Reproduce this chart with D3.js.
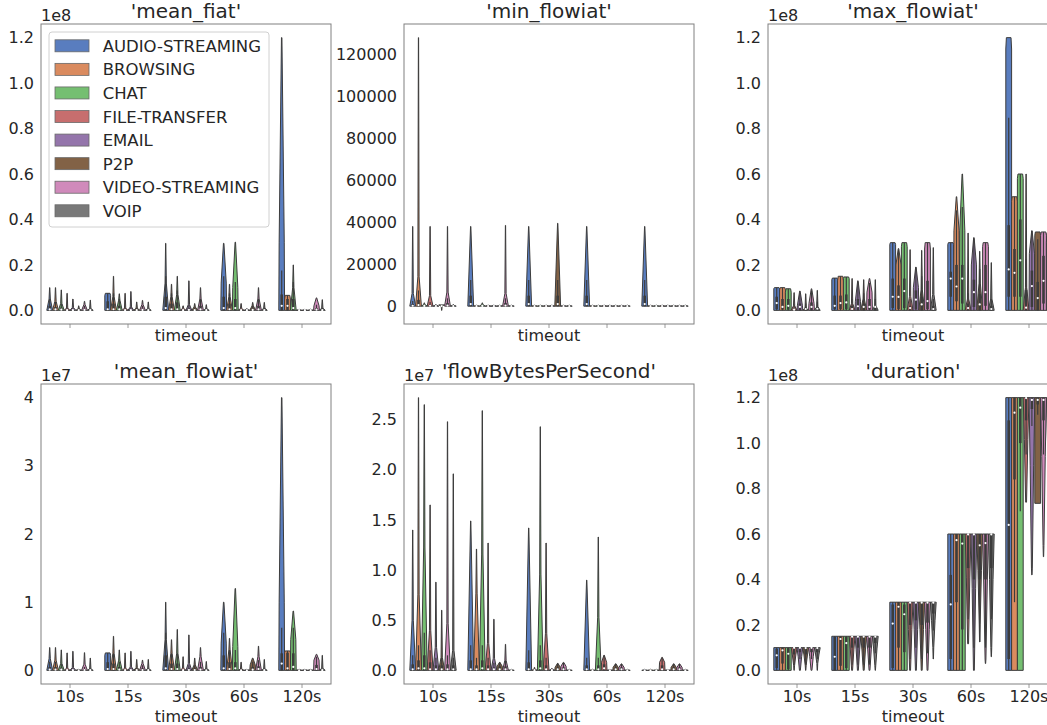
<!DOCTYPE html>
<html lang="en">
<head>
<meta charset="UTF-8">
<title>timeout violins</title>
<script src="https://d3js.org/d3.v7.min.js"></script>
<style>
  body { margin: 0; background: #fff; }
  svg { display: block; }
  text { font-family: "DejaVu Sans", sans-serif; fill: #262626; }
</style>
</head>
<body>
<script>
const timeouts = ["10s", "15s", "30s", "60s", "120s"];
const categories = ["AUDIO-STREAMING", "BROWSING", "CHAT", "FILE-TRANSFER", "EMAIL", "P2P", "VIDEO-STREAMING", "VOIP"];
const palette = ["#4878d0", "#ee854a", "#6acc64", "#d65f5f", "#956cb4", "#8c613c", "#dc7ec0", "#797979"];

// one violin = [shape, min, max, neck, q1, median, q3]
// shape: s = heavy at the bottom, w = wide shoulder then taper, r = full width, i = heavy at the top
const meanFiat = [ // x1e8
  [["s",0,0.10,0.05,0,0.004,0.02],["s",0,0.10,0.04,0,0.004,0.015],["s",0,0.09,0.03,0,0.003,0.012],["s",0,0.075,0.01,0,0.001,0.004],["s",0,0.05,0.012,0,0.001,0.005],["s",0,0.02,0.006,0,0.001,0.003],["s",0,0.04,0.025,0,0.002,0.008],["s",0,0.045,0.008,0,0.001,0.003]],
  [["r",0,0.075,0.065,0,0.005,0.04],["s",0,0.15,0.06,0,0.005,0.03],["s",0,0.073,0.045,0,0.004,0.02],["s",0,0.075,0.01,0,0.001,0.004],["s",0,0.083,0.015,0,0.001,0.006],["s",0,0.037,0.01,0,0.001,0.004],["s",0,0.044,0.025,0,0.002,0.008],["s",0,0.037,0.008,0,0.001,0.003]],
  [["s",0,0.295,0.12,0,0.01,0.06],["s",0,0.115,0.06,0,0.005,0.03],["s",0,0.15,0.07,0,0.005,0.035],["s",0,0.02,0.008,0,0.001,0.003],["s",0,0.13,0.025,0,0.002,0.01],["s",0,0.03,0.015,0,0.001,0.005],["s",0,0.10,0.05,0,0.004,0.02],["s",0,0.025,0.006,0,0.001,0.003]],
  [["w",0,0.295,0.12,0,0.01,0.06],["s",0,0.115,0.06,0,0.005,0.03],["w",0,0.30,0.1,0,0.01,0.05],["s",0,0.03,0.008,0,0.001,0.003],["s",0,0.008,0.004,0,0.001,0.002],["s",0,0.035,0.02,0,0.002,0.008],["s",0,0.10,0.05,0,0.004,0.02],["s",0,0.035,0.01,0,0.001,0.004]],
  [["w",0,1.20,0.3,0,0.02,0.07],["r",0,0.066,0.05,0,0.02,0.05],["s",0,0.20,0.1,0,0.01,0.05],["s",0,0.005,0.003,0,0.001,0.002],["s",0,0.005,0.003,0,0.001,0.002],["s",0,0.005,0.003,0,0.001,0.002],["w",0,0.055,0.02,0,0.003,0.01],["s",0,0.047,0.01,0,0.001,0.004]]
];

const minFlowiat = [
  [["s",0,38000,6000,0,200,1000],["s",0,128000,14000,0,500,3000],["s",0,1600,800,0,100,300],["s",0,38000,5000,0,200,800],["s",0,800,400,0,50,200],["i",-2000,600,0,0,50,200],["s",0,38000,6700,0,300,1500],["s",0,800,400,0,50,200]],
  [["s",0,38000,38000,0,1000,5000],["s",0,600,300,0,50,150],["s",0,1600,800,0,100,300],["s",0,600,300,0,50,150],["s",0,600,300,0,50,150],["s",0,600,300,0,50,150],["s",0,38500,6000,0,300,1500],["s",0,600,300,0,50,150]],
  [["s",0,38000,38000,0,1000,5000],["s",0,600,300,0,50,150],["s",0,600,300,0,50,150],["s",0,600,300,0,50,150],["s",0,600,300,0,50,150],["s",0,39500,39500,0,1000,5000],["s",0,600,300,0,50,150],["s",0,600,300,0,50,150]],
  [["s",0,38000,38000,0,1000,5000],["s",0,600,300,0,50,150],["s",0,600,300,0,50,150],["s",0,600,300,0,50,150],["s",0,600,300,0,50,150],["s",0,600,300,0,50,150],["s",0,600,300,0,50,150],["s",0,600,300,0,50,150]],
  [["s",0,38000,38000,0,1000,5000],["s",0,600,300,0,50,150],["s",0,600,300,0,50,150],["s",0,600,300,0,50,150],["s",0,600,300,0,50,150],["s",0,600,300,0,50,150],["s",0,600,300,0,50,150],["s",0,600,300,0,50,150]]
];

const maxFlowiat = [ // x1e8
  [["r",0,0.10,0.095,0.005,0.032,0.06],["r",0,0.10,0.09,0.003,0.015,0.05],["r",0,0.095,0.08,0.003,0.02,0.05],["s",0,0.078,0.02,0,0.003,0.01],["w",0,0.085,0.02,0,0.015,0.03],["s",0,0.073,0.01,0,0.006,0.012],["w",0,0.095,0.03,0,0.015,0.035],["s",0,0.088,0.015,0,0.007,0.015]],
  [["r",0,0.142,0.135,0.005,0.02,0.065],["r",0,0.15,0.13,0.005,0.032,0.065],["r",0,0.147,0.14,0.005,0.035,0.07],["s",0,0.14,0.03,0,0.006,0.02],["w",0,0.13,0.04,0,0.018,0.05],["s",0,0.135,0.05,0,0.015,0.03],["w",0,0.14,0.08,0.003,0.015,0.05],["s",0,0.135,0.02,0,0.015,0.02]],
  [["r",0,0.298,0.29,0.01,0.06,0.14],["w",0,0.272,0.2,0.005,0.059,0.11],["r",0,0.298,0.28,0.01,0.085,0.14],["s",0,0.267,0.06,0,0.01,0.02],["w",0,0.19,0.1,0.005,0.047,0.088],["s",0,0.264,0.09,0,0.026,0.06],["r",0,0.298,0.27,0.005,0.041,0.13],["s",0,0.276,0.07,0,0.006,0.02]],
  [["r",0,0.298,0.29,0.06,0.14,0.17],["w",0,0.50,0.35,0.04,0.105,0.2],["w",0,0.60,0.35,0.03,0.14,0.2],["s",0,0.34,0.05,0,0.01,0.03],["w",0,0.32,0.2,0.015,0.08,0.135],["s",0,0.26,0.12,0,0.026,0.073],["r",0,0.298,0.28,0.02,0.08,0.2],["s",0,0.21,0.05,0,0.006,0.02]],
  [["r",0,1.20,1.15,0.06,0.18,0.375],["r",0,0.50,0.48,0.06,0.165,0.27],["r",0,0.60,0.58,0.06,0.22,0.40],["s",0,0.60,0.1,0,0.012,0.09],["w",0,0.35,0.25,0.015,0.107,0.175],["r",0,0.345,0.33,0,0.054,0.125],["r",0,0.345,0.33,0.03,0.13,0.24],["r",0,0.34,0.3,0.01,0.1,0.2]]
];

const meanFlowiat = [ // x1e7
  [["s",0,0.335,0.17,0,0.01,0.05],["s",0,0.335,0.15,0,0.01,0.05],["s",0,0.30,0.1,0,0.01,0.04],["s",0,0.256,0.03,0,0.003,0.01],["s",0,0.28,0.04,0,0.003,0.015],["s",0,0.02,0.01,0,0.002,0.005],["s",0,0.26,0.09,0,0.005,0.02],["s",0,0.18,0.02,0,0.003,0.01]],
  [["r",0,0.256,0.22,0,0.02,0.12],["s",0,0.50,0.25,0,0.02,0.1],["s",0,0.30,0.15,0,0.01,0.05],["s",0,0.256,0.03,0,0.003,0.01],["s",0,0.28,0.05,0,0.003,0.015],["s",0,0.16,0.04,0,0.003,0.015],["s",0,0.15,0.1,0,0.005,0.03],["s",0,0.16,0.02,0,0.003,0.01]],
  [["s",0,1.0,0.45,0,0.03,0.22],["s",0,0.45,0.25,0,0.02,0.1],["s",0,0.60,0.25,0,0.02,0.1],["s",0,0.20,0.03,0,0.003,0.01],["s",0,0.52,0.1,0,0.005,0.03],["s",0,0.18,0.08,0,0.005,0.03],["s",0,0.335,0.2,0,0.01,0.05],["s",0,0.13,0.02,0,0.002,0.01]],
  [["w",0,1.0,0.4,0,0.03,0.22],["s",0,0.47,0.3,0,0.02,0.12],["w",0,1.2,0.35,0,0.03,0.12],["s",0,0.12,0.02,0,0.002,0.008],["s",0,0.02,0.01,0,0.002,0.005],["w",0,0.18,0.08,0,0.01,0.05],["s",0,0.355,0.2,0,0.02,0.06],["s",0,0.16,0.02,0,0.003,0.01]],
  [["w",0,4.0,1.0,0,0.1,0.25],["r",0,0.285,0.26,0,0.03,0.26],["w",0,0.87,0.45,0,0.05,0.25],["s",0,0.02,0.01,0,0.002,0.005],["s",0,0.02,0.01,0,0.002,0.005],["s",0,0.02,0.01,0,0.002,0.005],["w",0,0.236,0.15,0,0.02,0.08],["s",0,0.22,0.03,0,0.003,0.01]]
];

const flowBytes = [ // x1e7
  [["s",0,1.40,0.5,0,0.01,0.06],["s",0,2.72,0.76,0,0.02,0.1],["s",0,2.65,1.23,0,0.02,0.15],["s",0,1.65,0.4,0,0.01,0.08],["s",0,0.88,0.23,0,0.01,0.05],["s",0,0.60,0.13,0,0.01,0.05],["s",0,2.48,0.47,0,0.01,0.06],["s",0,1.96,0.2,0,0.01,0.05]],
  [["s",0,1.49,1.49,0,0.01,0.1],["s",0,1.21,0.77,0,0.01,0.05],["s",0,2.59,1.16,0,0.02,0.1],["s",0,1.27,0.27,0,0.01,0.05],["s",0,0.51,0.12,0,0.01,0.03],["w",0,0.08,0.04,0,0.01,0.04],["s",0,0.26,0.1,0,0.01,0.04],["s",0,0.01,0.005,0,0.001,0.003]],
  [["s",0,1.42,1.42,0,0.01,0.08],["s",0,0.03,0.01,0,0.002,0.005],["s",0,2.43,0.96,0,0.02,0.1],["s",0,1.27,0.37,0,0.01,0.05],["s",0,0.02,0.01,0,0.002,0.005],["w",0,0.07,0.03,0,0.01,0.03],["w",0,0.08,0.04,0,0.01,0.03],["s",0,0.01,0.005,0,0.001,0.003]],
  [["s",0,0.90,0.9,0,0.01,0.05],["s",0,0.01,0.005,0,0.001,0.003],["s",0,1.33,0.53,0,0.01,0.05],["w",0,0.15,0.08,0,0.02,0.06],["s",0,0.01,0.005,0,0.001,0.003],["w",0,0.065,0.03,0,0.01,0.03],["w",0,0.065,0.03,0,0.01,0.03],["s",0,0.01,0.005,0,0.001,0.003]],
  [["s",0,0.01,0.005,0,0.001,0.003],["s",0,0.01,0.005,0,0.001,0.003],["s",0,0.01,0.005,0,0.001,0.003],["w",0,0.13,0.08,0,0.01,0.05],["s",0,0.01,0.005,0,0.001,0.003],["w",0,0.065,0.03,0,0.01,0.03],["w",0,0.065,0.03,0,0.01,0.03],["s",0,0.01,0.005,0,0.001,0.003]]
];

const duration = [ // x1e8
  [["r",0,0.1,0.1,0.01,0.066,0.095],["r",0,0.1,0.1,0.03,0.088,0.1],["r",0,0.1,0.1,0.005,0.073,0.098],["i",0,0.1,0.02,0.07,0.099,0.1],["i",0,0.1,0,0.08,0.099,0.1],["i",0,0.1,0.02,0.07,0.098,0.1],["i",0,0.1,0,0.08,0.099,0.1],["i",0,0.1,0.03,0.08,0.098,0.1]],
  [["r",0,0.15,0.15,0,0.06,0.148],["r",0,0.15,0.15,0.02,0.138,0.15],["r",0,0.15,0.15,0.01,0.12,0.148],["i",0,0.15,0,0.1,0.148,0.15],["i",0,0.15,0,0.1,0.148,0.15],["i",0,0.15,0,0.1,0.148,0.15],["i",0,0.15,0,0.1,0.148,0.15],["i",0,0.15,0.02,0.12,0.148,0.15]],
  [["r",0,0.3,0.3,0.01,0.206,0.29],["r",0,0.3,0.3,0.1,0.28,0.3],["r",0,0.3,0.3,0.08,0.247,0.29],["i",0,0.3,0,0.2,0.298,0.3],["i",0,0.3,0,0.22,0.298,0.3],["i",0,0.3,0,0.2,0.298,0.3],["i",0,0.3,0,0.21,0.298,0.3],["i",0.05,0.3,0.1,0.25,0.298,0.3]],
  [["r",0,0.6,0.6,0.05,0.29,0.42],["r",0,0.6,0.6,0.3,0.573,0.6],["r",0,0.6,0.6,0.18,0.558,0.6],["i",0.117,0.6,0.117,0.45,0.598,0.6],["i",0,0.6,0,0.4,0.598,0.6],["i",0.125,0.6,0.2,0.4,0.55,0.6],["i",0.03,0.6,0.05,0.4,0.56,0.6],["i",0.06,0.6,0.1,0.45,0.598,0.6]],
  [["r",0,1.2,1.2,0.05,0.64,1.1],["r",0,1.2,1.2,0.84,1.134,1.2],["r",0,1.2,1.2,1.0,1.156,1.2],["i",0.74,1.2,0.74,1.1,1.198,1.2],["i",0.42,1.2,0.45,1.15,1.19,1.2],["r",0.735,1.2,1.2,1.17,1.19,1.2],["i",0.5,1.2,0.55,1.1,1.19,1.2],["i",0.6,1.2,0.7,1.1,1.19,1.2]]
];

const unitTicks = [0, 0.2, 0.4, 0.6, 0.8, 1.0, 1.2];
const panels = [
  { title: "'mean_fiat'", offset: "1e8", ticks: unitTicks, fmt: ".1f", data: meanFiat },
  { title: "'min_flowiat'", offset: "", ticks: [0, 20000, 40000, 60000, 80000, 100000, 120000], fmt: "d", data: minFlowiat },
  { title: "'max_flowiat'", offset: "1e8", ticks: unitTicks, fmt: ".1f", data: maxFlowiat },
  { title: "'mean_flowiat'", offset: "1e7", ticks: [0, 1, 2, 3, 4], fmt: "d", data: meanFlowiat },
  { title: "'flowBytesPerSecond'", offset: "1e7", ticks: [0, 0.5, 1.0, 1.5, 2.0, 2.5], fmt: ".1f", data: flowBytes },
  { title: "'duration'", offset: "1e8", ticks: unitTicks, fmt: ".1f", data: duration }
];

const width = 1047, height = 725;
const W = 290, H = 300;
const lefts = [41, 404, 768], tops = [24, 384];
const lineGray = "#3c3c3c", spineGray = "#808080";

// seaborn draws violins with saturation .75
function desat(c) {
  const h = d3.hsl(c);
  h.s *= 0.75;
  return h.formatHex();
}
const fills = palette.map(desat);

function knots(v) {
  const [k, lo, hi, p] = v;
  if (k === "s") {
    if (p >= hi) return [[lo, 1], [hi, 0.05]];
    return [[lo, 1], [p, 0.22], [hi, 0.04]];
  }
  if (k === "w") return [[lo, 1], [p, 0.88], [hi, 0.08]];
  if (k === "r") return p >= hi ? [[lo, 1], [hi, 1]] : [[lo, 1], [p, 1], [hi, 0.8]];
  return [[lo, 0.05], [p, 0.15], [p + (hi - p) * 0.6, 0.6], [hi, 1]];
}

const svg = d3.select("body").append("svg")
  .attr("width", width)
  .attr("height", height);

panels.forEach((panel, i) => {
  const row = Math.floor(i / 3);
  const g = svg.append("g").attr("transform", `translate(${lefts[i % 3]},${tops[row]})`);

  const x = d3.scaleBand().domain(timeouts).range([0, W]);
  const hue = d3.scaleBand().domain(categories)
    .range([-0.4 * x.bandwidth(), 0.4 * x.bandwidth()]);
  const half = hue.bandwidth() / 2;

  const flat = panel.data.flat();
  const lo = d3.min(flat, d => d[1]), hi = d3.max(flat, d => d[2]);
  const pad = (hi - lo) * 0.05;
  const y = d3.scaleLinear().domain([lo - pad, hi + pad]).range([H, 0]);

  panel.data.forEach((group, ti) => {
    group.forEach((v, ci) => {
      const cx = x(timeouts[ti]) + x.bandwidth() / 2 + hue(categories[ci]) + half;
      const area = d3.area()
        .y(d => y(d[0]))
        .x0(d => cx - d[1] * half)
        .x1(d => cx + d[1] * half);
      g.append("path")
        .attr("d", area(knots(v)))
        .attr("fill", fills[ci])
        .attr("stroke", lineGray)
        .attr("stroke-width", 1)
        .attr("stroke-linejoin", "round");

      const [, vmin, vmax, , q1, med, q3] = v;
      const iqr = q3 - q1;
      const wLo = Math.max(vmin, q1 - 1.5 * iqr), wHi = Math.min(vmax, q3 + 1.5 * iqr);
      g.append("line")
        .attr("x1", cx).attr("x2", cx)
        .attr("y1", y(wLo)).attr("y2", y(wHi))
        .attr("stroke", lineGray)
        .attr("stroke-width", 1.2);
      g.append("rect")
        .attr("x", cx - 1.3)
        .attr("width", 2.6)
        .attr("y", y(q3))
        .attr("height", Math.max(0, y(q1) - y(q3)))
        .attr("fill", lineGray);
      g.append("circle")
        .attr("cx", cx).attr("cy", y(med))
        .attr("r", 1.1)
        .attr("fill", "white");
    });
  });

  // axes: no y tick marks, short light x ticks
  const yAxis = g.append("g")
    .call(d3.axisLeft(y).tickValues(panel.ticks).tickFormat(d3.format(panel.fmt)).tickSize(0).tickPadding(7));
  const xAxis = g.append("g")
    .attr("transform", `translate(0,${H})`)
    .call(d3.axisBottom(x).tickSize(4).tickPadding(3).tickFormat(row === 0 ? "" : d => d));
  [yAxis, xAxis].forEach(a => {
    a.attr("font-size", 16).attr("font-family", "DejaVu Sans, sans-serif");
    a.select(".domain").remove();
    a.selectAll(".tick line").attr("stroke", "#9a9a9a");
    a.selectAll(".tick text").attr("fill", "#262626");
  });

  g.append("rect")
    .attr("width", W).attr("height", H)
    .attr("fill", "none")
    .attr("stroke", spineGray)
    .attr("stroke-width", 1);

  g.append("text")
    .attr("x", W / 2).attr("y", -6)
    .attr("text-anchor", "middle")
    .attr("font-size", 20)
    .text(panel.title);

  g.append("text")
    .attr("x", W / 2).attr("y", row === 0 ? H + 17 : H + 38)
    .attr("text-anchor", "middle")
    .attr("font-size", 16)
    .text("timeout");

  if (panel.offset) {
    g.append("text")
      .attr("x", 0).attr("y", -3)
      .attr("font-size", 16)
      .text(panel.offset);
  }

  if (i === 0) {
    const leg = g.append("g").attr("transform", "translate(8,8)");
    leg.append("rect")
      .attr("width", 220).attr("height", 195)
      .attr("rx", 3)
      .attr("fill", "white").attr("fill-opacity", 0.8)
      .attr("stroke", "#d0d0d0");
    categories.forEach((c, ci) => {
      const cy = 13.8 + ci * 23.57;
      leg.append("rect")
        .attr("x", 6).attr("y", cy - 6)
        .attr("width", 34).attr("height", 12)
        .attr("fill", fills[ci])
        .attr("stroke", "#6a6a6a")
        .attr("stroke-width", 0.8);
      leg.append("text")
        .attr("x", 53.7).attr("y", cy + 6)
        .attr("font-size", 16.5)
        .text(c);
    });
  }
});
</script>
</body>
</html>
